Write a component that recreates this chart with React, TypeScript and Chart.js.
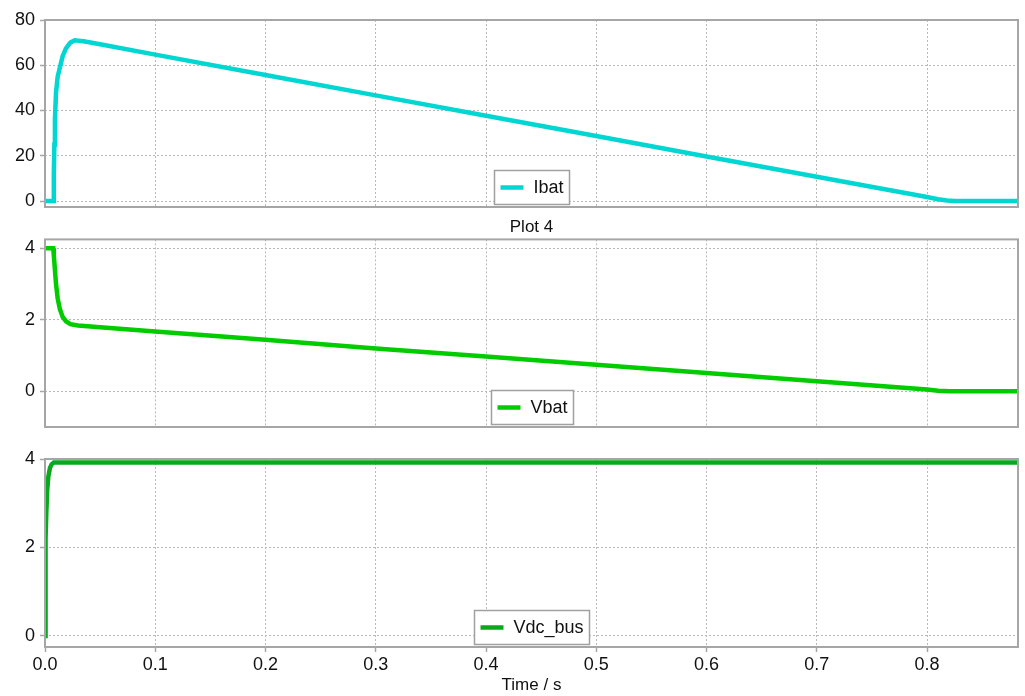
import React, { useEffect, useRef } from 'react';
import { Chart, registerables } from 'chart.js';

Chart.register(...registerables);

// ---------- data ----------
const X_MAX = 0.8825;
const xTicks = [0, 0.1, 0.2, 0.3, 0.4, 0.5, 0.6, 0.7, 0.8];
const ibatTicks = [0, 20, 40, 60, 80];
const vbatTicks = [0, 2, 4];
const vdcTicks = [0, 2, 4];

const ibatTime = [0, 0.0075, 0.008, 0.0085, 0.009, 0.01, 0.0115, 0.0135, 0.016, 0.019, 0.023, 0.027, 0.035, 0.05, 0.1, 0.2, 0.3, 0.4, 0.5, 0.6, 0.7, 0.8, 0.81, 0.818, 0.825, 0.8825];
const ibatValues = [0, 0, 12, 25, 36, 48, 55, 59, 64, 67.5, 70, 71, 70.6, 69.3, 64.7, 55.7, 46.7, 37.7, 28.7, 19.7, 10.7, 1.8, 0.8, 0.2, 0, 0];

const vbatTime = [0, 0.0075, 0.008, 0.009, 0.01, 0.0115, 0.0135, 0.016, 0.019, 0.023, 0.03, 0.05, 0.1, 0.2, 0.3, 0.4, 0.5, 0.6, 0.7, 0.8, 0.81, 0.82, 0.8825];
const vbatValues = [4, 4, 3.8, 3.4, 3.0, 2.6, 2.3, 2.08, 1.96, 1.88, 1.84, 1.79, 1.67, 1.44, 1.2, 0.97, 0.74, 0.51, 0.28, 0.05, 0.015, 0, 0];

const vdcTime = [0, 0.0003, 0.0007, 0.0012, 0.002, 0.003, 0.0045, 0.006, 0.008, 0.8825];
const vdcValues = [0, 1.2, 2.2, 2.8, 3.3, 3.6, 3.8, 3.88, 3.92, 3.92];

const FONT = '"Liberation Sans", Arial, sans-serif';
const GRID = '#b8b8b8';
const FRAME = '#a6a6a6';
const TEXT = '#111111';

const toPoints = (t: number[], v: number[]) => t.map((x, i) => ({ x, y: v[i] }));

const frameLegendPlugin = {
  id: 'frameLegend',
  afterDraw(chart: any) {
    const { ctx, chartArea: a } = chart;
    const ds = chart.data.datasets[0];
    ctx.save();
    ctx.strokeStyle = FRAME;
    ctx.lineWidth = 2;
    ctx.setLineDash([]);
    ctx.strokeRect(a.left, a.top, a.right - a.left, a.bottom - a.top);
    ctx.font = `18px ${FONT}`;
    const tw = ctx.measureText(ds.label).width;
    const w = Math.round(6 + 23 + 10 + tw + 6);
    const h = 34;
    const x = Math.round((a.left + a.right) / 2 - w / 2) + 0.5;
    const y = Math.round(a.bottom - 3 - h) + 0.5;
    ctx.fillStyle = '#ffffff';
    ctx.fillRect(x, y, w, h);
    ctx.strokeStyle = '#a0a0a0';
    ctx.lineWidth = 1.5;
    ctx.strokeRect(x, y, w, h);
    ctx.strokeStyle = ds.borderColor;
    ctx.lineWidth = 4.5;
    ctx.beginPath();
    ctx.moveTo(x + 6, y + h / 2);
    ctx.lineTo(x + 29, y + h / 2);
    ctx.stroke();
    ctx.fillStyle = TEXT;
    ctx.textBaseline = 'middle';
    ctx.textAlign = 'left';
    ctx.fillText(ds.label, x + 39, y + h / 2 + 1);
    ctx.restore();
  },
};

function buildConfig(opts: {
  label: string;
  color: string;
  time: number[];
  values: number[];
  yMin: number;
  yMax: number;
  yTicks: number[];
  padTop: number;
  padBottom: number;
  title?: string;
  showX: boolean;
}): any {
  return {
    type: 'line',
    data: {
      datasets: [
        {
          label: opts.label,
          data: toPoints(opts.time, opts.values),
          borderColor: opts.color,
          backgroundColor: opts.color,
          borderWidth: 4.5,
          pointRadius: 0,
          tension: 0,
          fill: false,
        },
      ],
    },
    options: {
      animation: false,
      responsive: false,
      maintainAspectRatio: false,
      layout: { padding: { left: 0, right: 7, top: opts.padTop, bottom: opts.padBottom } },
      plugins: {
        legend: { display: false },
        tooltip: { enabled: false },
        title: opts.title
          ? {
              display: true,
              text: opts.title,
              fullSize: false,
              color: TEXT,
              font: { family: FONT, size: 17, weight: 'normal', lineHeight: 1.2 },
              padding: { top: 2, bottom: 2 },
            }
          : { display: false },
      },
      scales: {
        x: {
          type: 'linear',
          min: 0,
          max: X_MAX,
          afterBuildTicks: (s: any) => {
            s.ticks = xTicks.map((v) => ({ value: v }));
          },
          afterFit: (s: any) => {
            s.height = opts.showX ? 49 : 0;
            s.paddingLeft = 0;
            s.paddingRight = 0;
          },
          border: { display: false, dash: [2, 2] },
          grid: {
            color: GRID,
            lineWidth: 1,
            drawTicks: opts.showX,
            tickLength: 5,
            tickColor: FRAME,
            tickWidth: 1.5,
          },
          ticks: {
            display: opts.showX,
            padding: 2,
            color: TEXT,
            font: { family: FONT, size: 18 },
            callback: (v: any) => Number(v).toFixed(1),
            maxRotation: 0,
            autoSkip: false,
          },
          title: opts.showX
            ? {
                display: true,
                text: 'Time / s',
                color: TEXT,
                font: { family: FONT, size: 17 },
                padding: { top: 0, bottom: 0 },
              }
            : { display: false },
        },
        y: {
          type: 'linear',
          min: opts.yMin,
          max: opts.yMax,
          afterBuildTicks: (s: any) => {
            s.ticks = opts.yTicks.map((v) => ({ value: v }));
          },
          afterFit: (s: any) => {
            s.width = 45;
            s.paddingTop = 0;
            s.paddingBottom = 0;
          },
          border: { display: false, dash: [2, 2] },
          grid: {
            color: GRID,
            lineWidth: 1,
            drawTicks: true,
            tickLength: 5,
            tickColor: FRAME,
            tickWidth: 1.5,
          },
          ticks: {
            padding: 5,
            color: TEXT,
            font: { family: FONT, size: 18 },
            autoSkip: false,
          },
        },
      },
    },
    plugins: [frameLegendPlugin],
  };
}

export default function App() {
  const ref1 = useRef<HTMLCanvasElement>(null);
  const ref2 = useRef<HTMLCanvasElement>(null);
  const ref3 = useRef<HTMLCanvasElement>(null);

  useEffect(() => {
    const c1 = new Chart(
      ref1.current as HTMLCanvasElement,
      buildConfig({
        label: 'Ibat',
        color: '#00d6d2',
        time: ibatTime,
        values: ibatValues,
        yMin: -2.65,
        yMax: 80,
        yTicks: ibatTicks,
        padTop: 20,
        padBottom: 3,
        showX: false,
      })
    );
    const c2 = new Chart(
      ref2.current as HTMLCanvasElement,
      buildConfig({
        label: 'Vbat',
        color: '#00cc00',
        time: vbatTime,
        values: vbatValues,
        yMin: -1,
        yMax: 4.25,
        yTicks: vbatTicks,
        padTop: 0,
        padBottom: 3,
        title: 'Plot 4',
        showX: false,
      })
    );
    const c3 = new Chart(
      ref3.current as HTMLCanvasElement,
      buildConfig({
        label: 'Vdc_bus',
        color: '#0aa81e',
        time: vdcTime,
        values: vdcValues,
        yMin: -0.25,
        yMax: 4,
        yTicks: vdcTicks,
        padTop: 29,
        padBottom: 0,
        showX: true,
      })
    );
    return () => {
      c1.destroy();
      c2.destroy();
      c3.destroy();
    };
  }, []);

  const canvasStyle = (top: number, height: number): React.CSSProperties => ({
    position: 'absolute',
    left: 0,
    top,
    width: 1025,
    height,
    display: 'block',
  });

  return (
    <div style={{ position: 'fixed', left: 0, top: 0, width: 1025, height: 696, background: '#ffffff', overflow: 'hidden' }}>
      <canvas ref={ref1} width={1025} height={210} style={canvasStyle(0, 210)} />
      <canvas ref={ref2} width={1025} height={215} style={canvasStyle(215, 215)} />
      <canvas ref={ref3} width={1025} height={266} style={canvasStyle(430, 266)} />
    </div>
  );
}
